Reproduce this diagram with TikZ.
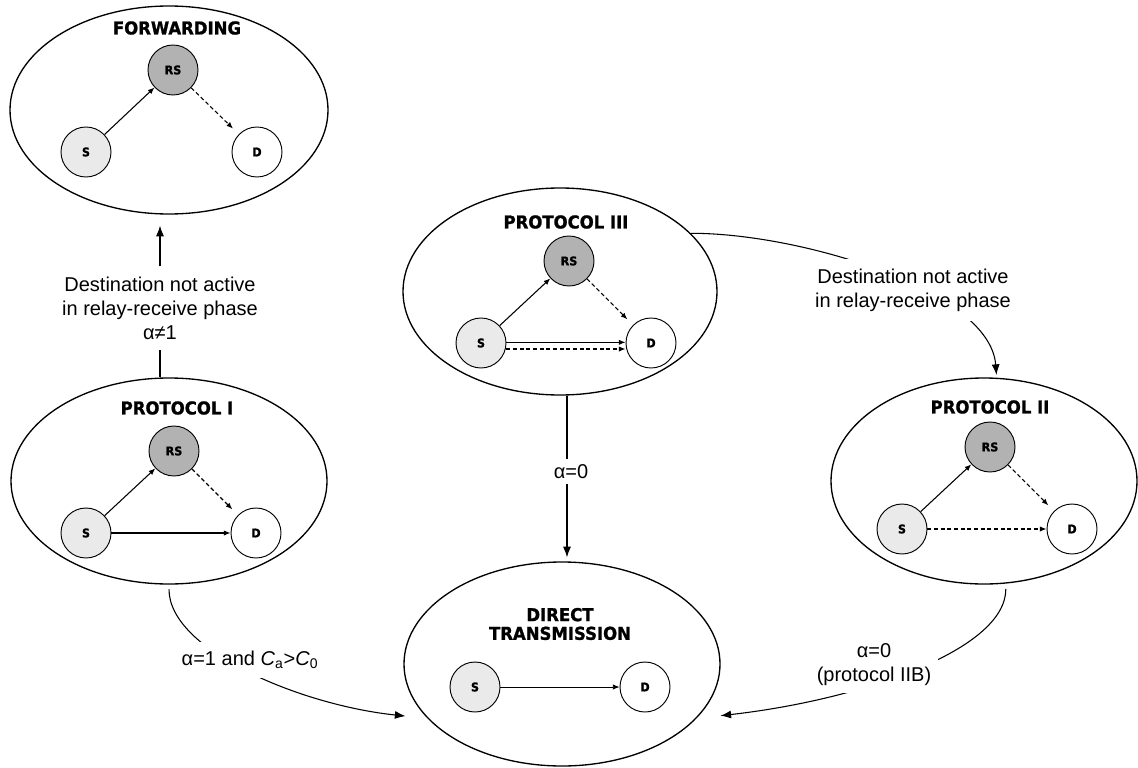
\documentclass[tikz,border=0pt]{standalone}
\usepackage{fontspec}
\setmainfont{Liberation Sans}
\newfontfamily\tfont{DejaVu Sans}[FakeStretch=0.93, BoldFeatures={FakeBold=1.2}]
\usetikzlibrary{shapes.geometric,arrows.meta,calc}
\definecolor{rsgray}{HTML}{B2B2B2}
\definecolor{sgray}{HTML}{EAEAEA}
\tikzset{
 big/.style={ellipse, draw, line width=1pt, inner sep=0pt},
 ttl/.style={font=\tfont\bfseries\fontsize{13.3}{15}\selectfont, align=center, inner sep=0pt},
 stn/.style={circle, draw, line width=0.7pt, minimum size=37.5pt, inner sep=0pt, font=\tfont\bfseries\fontsize{9}{10}\selectfont},
 rsn/.style={stn, fill=rsgray},
 srcn/.style={stn, fill=sgray},
 dstn/.style={stn, fill=white},
 link/.style={line width=0.8pt, -{Latex[length=5pt,width=4pt]}},
 dlink/.style={link, dash pattern=on 3pt off 2pt},
 conn/.style={line width=0.8pt, -{Latex[length=8pt,width=6pt]}},
 lbl/.style={font=\fontsize{15}{18}\selectfont, align=center, fill=white},
}
\begin{document}
\begin{tikzpicture}[x=0.75pt,y=-0.75pt]
\useasboundingbox (0,0) rectangle (1138,767);

% big ellipses
\node[big, minimum width=238.5pt, minimum height=156pt] (fwd) at (169,110) {};
\node[big, minimum width=237pt, minimum height=154.5pt] (p1) at (169,481) {};
\node[big, minimum width=235.5pt, minimum height=155.25pt] (p3) at (560,291.5) {};
\node[big, minimum width=229.5pt, minimum height=154.5pt] (p2) at (984,481) {};
\node[big, minimum width=237pt, minimum height=153pt] (dt) at (562,664) {};

% FORWARDING
\node[ttl] (fwdT) at (177,28) {FORWARDING};
\node[rsn] (fRS) at (173,70) {RS};
\node[srcn] (fS) at (86,152) {S};
\node[dstn] (fD) at (257,152) {D};
\draw[link] (fS) -- (fRS);
\draw[dlink, shorten >=6pt] (fRS) -- (fD);

% PROTOCOL I
\node[ttl] (p1T) at (177,408) {PROTOCOL I};
\node[rsn] (aRS) at (174,451) {RS};
\node[srcn] (aS) at (86,533) {S};
\node[dstn] (aD) at (256,533) {D};
\draw[link] (aS) -- (aRS);
\draw[dlink, shorten >=6pt] (aRS) -- (aD);
\draw[link] (aS) -- (aD);

% PROTOCOL III
\node[ttl] (p3T) at (566,222) {PROTOCOL III};
\node[rsn] (cRS) at (569,261) {RS};
\node[srcn] (cS) at (481,343) {S};
\node[dstn] (cD) at (651,343) {D};
\draw[link] (cS) -- (cRS);
\draw[dlink, shorten >=6pt] (cRS) -- (cD);
\draw[link] ([yshift=0.5pt]cS.east) -- ([yshift=0.5pt]cD.west);
\draw[dlink] ([yshift=-4.5pt]cS.east) -- ([yshift=-4.5pt]cD.west);

% PROTOCOL II
\node[ttl] (p2T) at (990,407) {PROTOCOL II};
\node[rsn] (bRS) at (990,447) {RS};
\node[srcn] (bS) at (902,529) {S};
\node[dstn] (bD) at (1072,529) {D};
\draw[link] (bS) -- (bRS);
\draw[dlink, shorten >=6pt] (bRS) -- (bD);
\draw[dlink] (bS) -- (bD);

% DIRECT TRANSMISSION
\node[ttl] (dtT) at (560,624) {DIRECT\\[-1pt]TRANSMISSION};
\node[srcn] (dS) at (475,687) {S};
\node[dstn] (dD) at (645,687) {D};
\draw[line width=0.6pt, -{Latex[length=5pt,width=4pt]}] (dS) -- (dD);

% Protocol I -> Forwarding
\node[lbl, fill=none, inner xsep=2pt, inner ysep=7.5pt] (lab1) at (160,308) {Destination not active\\in relay-receive phase\\α≠1};
\draw[line width=0.8pt] (p1.north -| lab1.south) -- (lab1.south);
\draw[conn, shorten >=8.25pt] (lab1.north) -- (lab1.north |- fwd.south);

% curved connectors
\draw[conn, shorten <=3.5pt, shorten >=16.5pt] (p1.south) .. controls (169,650) and (300,705) .. (dt.202);
\draw[conn, shorten >=2pt] (p3.24) .. controls (800,233) and (990,290) .. (p2.83);
\draw[conn, shorten <=4pt, shorten >=18pt] (p2.282) .. controls (1006,650) and (860,700) .. (dt.338);
\draw[conn, shorten >=3pt] ([xshift=5.25pt]p3.south) -- node[pos=0.46, lbl, inner sep=4pt, xshift=3pt] (lab3) {α=0} ([xshift=3.75pt]dt.north);

% labels on curves
\node[lbl, inner sep=7pt] (lab2) at (250,660) {α=1 and \textit{C}\textsubscript{a}>\textit{C}\textsubscript{0}};
\node[lbl, inner sep=7pt] (lab4) at (913,290) {Destination not active\\in relay-receive phase};
\node[lbl, inner sep=5pt] (lab5) at (874,665) {α=0\\(protocol IIB)};
\end{tikzpicture}
\end{document}
